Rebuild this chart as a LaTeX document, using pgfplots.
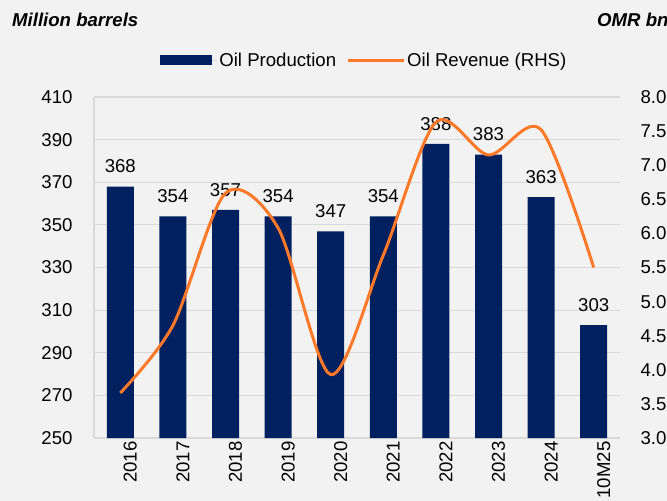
\documentclass[border=0pt]{standalone}
\usepackage{fontspec}
\setmainfont{Liberation Sans}
\usepackage{pgfplots}
\pgfplotsset{compat=1.18}
\definecolor{navy}{RGB}{0,32,96}
\definecolor{orng}{RGB}{255,121,40}
\definecolor{bgc}{RGB}{242,242,242}
\definecolor{gridc}{RGB}{217,217,217}
\newcommand{\fs}{\fontsize{18.6bp}{22bp}\selectfont}
\begin{document}
\begin{tikzpicture}
\fill[bgc] (-94bp,-63bp) rectangle (573bp,438bp);
\path[use as bounding box] (-94bp,-63bp) rectangle (573bp,438bp);
\begin{axis}[
  at={(0,0)}, anchor=south west,
  scale only axis, width=526bp, height=341bp,
  xmin=-0.5, xmax=9.5, ymin=250, ymax=410,
  ytick={250,270,...,410},
  axis y line*=left, axis x line*=bottom,
  xtick={0,...,9},
  xticklabels={2016,2017,2018,2019,2020,2021,2022,2023,2024,10M25},
  x tick label style={rotate=90, anchor=east, font=\fs, yshift=-10bp},
  y tick label style={font=\fs, xshift=-18bp},
  /pgf/number format/assume math mode=true,
  major tick length=0pt,
  ymajorgrids, grid style={gridc, line width=1.2bp},
  axis line style={gridc, line width=1.2bp},
  legend style={at={(0.514,1.108)}, anchor=center, draw=none, fill=none,
    font=\fs, legend columns=2, /tikz/every even column/.append style={column sep=8bp}},
  legend cell align=left,
]
\addplot[ybar, bar width=27bp, fill=navy, draw=none,
  nodes near coords, nodes near coords style={font=\fs, yshift=10bp, text=black},
  legend image code/.code={\fill[navy] (0bp,-5bp) rectangle (52bp,5bp); \path (0bp,0bp) -- (57bp,0bp);}]
  coordinates {(0,368) (1,354) (2,357) (3,354) (4,347) (5,354) (6,388) (7,383) (8,363) (9,303)};
\addlegendentry{Oil Production}
\addlegendimage{orng, line width=3bp, legend image code/.code={\draw[orng, line width=3bp] (0bp,0bp) -- (53bp,0bp); \path (0bp,0bp) -- (56bp,0bp);}}
\addlegendentry{Oil Revenue (RHS)}
\end{axis}
\begin{axis}[
  at={(0,0)}, anchor=south west,
  scale only axis, width=526bp, height=341bp,
  xmin=-0.5, xmax=9.5, ymin=3, ymax=8,
  ytick={3,3.5,...,8},
  axis y line*=right, axis x line=none,
  y axis line style={draw=none},
  major tick length=0pt,
  y tick label style={font=\fs, xshift=17bp},
  /pgf/number format/assume math mode=true,
  yticklabel style={/pgf/number format/.cd, fixed, fixed zerofill, precision=1},
]
\addplot[orng, line width=3bp, smooth, tension=0.5]
  coordinates {(0,3.66) (1,4.65) (2,6.59) (3,6.08) (4,3.93) (5,5.68) (6,7.63) (7,7.15) (8,7.52) (9,5.5)};
\end{axis}
\node[anchor=west, inner sep=0pt, font=\fs\bfseries\itshape] at (-82bp,418bp) {Million barrels};
\node[anchor=west, inner sep=0pt, font=\fs\bfseries\itshape] at (503bp,418bp) {OMR bn};
\end{tikzpicture}
\end{document}
